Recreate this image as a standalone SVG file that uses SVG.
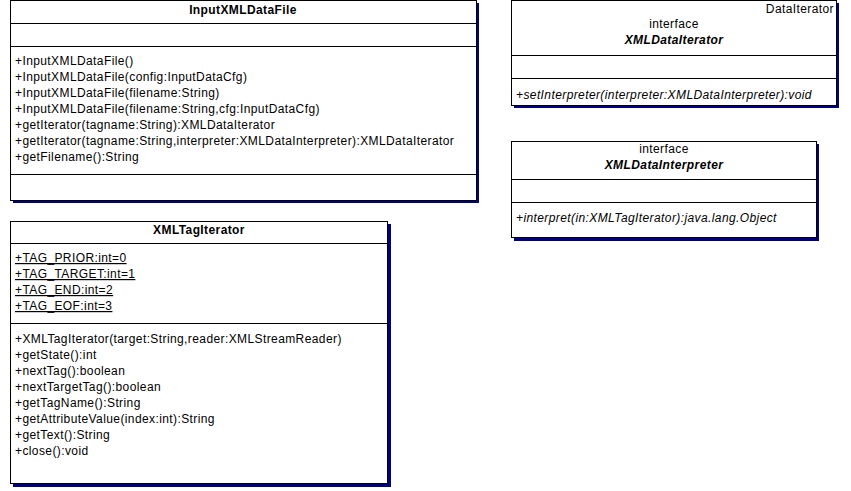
<svg xmlns="http://www.w3.org/2000/svg" width="851" height="491" viewBox="0 0 851 491">
<style>
.box{fill:#fff;stroke:#000;stroke-width:1}
.sh{fill:#000080}
.ln{stroke:#000;stroke-width:1}
text{font-family:"Liberation Sans",Arial,sans-serif;font-size:12px;letter-spacing:0.4px;fill:#000}
.b{font-weight:bold}
.c{text-anchor:middle}
.i{font-style:italic}
.u{text-decoration:underline}
</style>
<rect width="851" height="491" fill="#fff"/>
<g id="InputXMLDataFile">
<rect class="sh" x="13" y="3" width="466" height="200"/>
<rect class="box" x="10.5" y="0.5" width="466" height="200"/>
<line class="ln" x1="10" y1="23.5" x2="477" y2="23.5"/>
<line class="ln" x1="10" y1="46.5" x2="477" y2="46.5"/>
<line class="ln" x1="10" y1="174.5" x2="477" y2="174.5"/>
<text class="b c" x="243" y="14">InputXMLDataFile</text>
<text x="15" y="65">+InputXMLDataFile()</text>
<text x="15" y="81">+InputXMLDataFile(config:InputDataCfg)</text>
<text x="15" y="97">+InputXMLDataFile(filename:String)</text>
<text x="15" y="113">+InputXMLDataFile(filename:String,cfg:InputDataCfg)</text>
<text x="15" y="129">+getIterator(tagname:String):XMLDataIterator</text>
<text x="15" y="145">+getIterator(tagname:String,interpreter:XMLDataInterpreter):XMLDataIterator</text>
<text x="15" y="161">+getFilename():String</text>
</g>
<g id="XMLDataIterator">
<rect class="sh" x="514" y="3" width="325" height="105"/>
<rect class="box" x="511.5" y="0.5" width="325" height="105"/>
<line class="ln" x1="511" y1="55.5" x2="837" y2="55.5"/>
<line class="ln" x1="511" y1="78.5" x2="837" y2="78.5"/>
<text x="834" y="13" text-anchor="end">DataIterator</text>
<text class="c" x="674" y="28">interface</text>
<text class="b i c" x="674" y="44">XMLDataIterator</text>
<text class="i" x="516" y="99">+setInterpreter(interpreter:XMLDataInterpreter):void</text>
</g>
<g id="XMLDataInterpreter">
<rect class="sh" x="514" y="144" width="305" height="97"/>
<rect class="box" x="511.5" y="141.5" width="305" height="96"/>
<line class="ln" x1="511" y1="179.5" x2="817" y2="179.5"/>
<line class="ln" x1="511" y1="202.5" x2="817" y2="202.5"/>
<text class="c" x="664" y="153">interface</text>
<text class="b i c" x="664" y="169">XMLDataInterpreter</text>
<text class="i" x="516" y="222">+interpret(in:XMLTagIterator):java.lang.Object</text>
</g>
<g id="XMLTagIterator">
<rect class="sh" x="13" y="224" width="378" height="263"/>
<rect class="box" x="10.5" y="221.5" width="377" height="262"/>
<line class="ln" x1="10" y1="243.5" x2="388" y2="243.5"/>
<line class="ln" x1="10" y1="323.5" x2="388" y2="323.5"/>
<text class="b c" x="199" y="234">XMLTagIterator</text>
<text class="u" x="15" y="262">+TAG_PRIOR:int=0</text>
<text class="u" x="15" y="278">+TAG_TARGET:int=1</text>
<text class="u" x="15" y="294">+TAG_END:int=2</text>
<text class="u" x="15" y="310">+TAG_EOF:int=3</text>
<text x="15" y="343">+XMLTagIterator(target:String,reader:XMLStreamReader)</text>
<text x="15" y="359">+getState():int</text>
<text x="15" y="375">+nextTag():boolean</text>
<text x="15" y="391">+nextTargetTag():boolean</text>
<text x="15" y="407">+getTagName():String</text>
<text x="15" y="423">+getAttributeValue(index:int):String</text>
<text x="15" y="439">+getText():String</text>
<text x="15" y="455">+close():void</text>
</g>
<g id="connectors"></g>
</svg>
